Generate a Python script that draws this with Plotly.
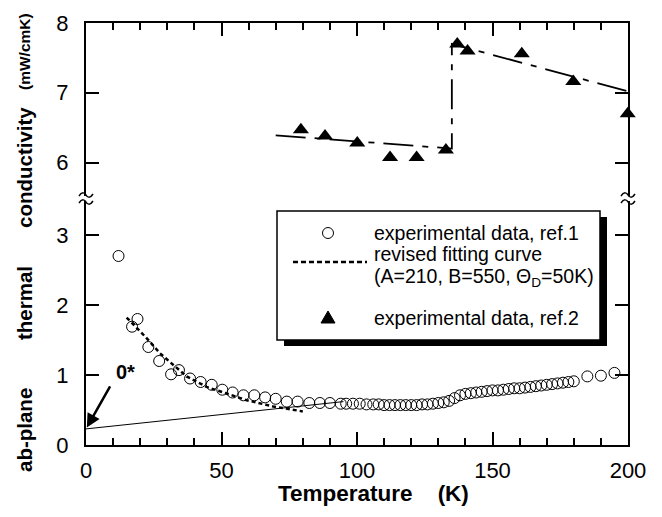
import plotly.graph_objects as go

# ---------------- data ----------------
ref1_T = [12, 17, 19, 23, 27, 31.4, 34.3, 38.4, 42.3, 46.4, 50.3, 54.1, 58.1, 62.1, 66.1, 70, 74.1, 78.1,
          82.4, 86.3, 90, 94, 96, 98.5, 101, 103.5, 106, 108, 110, 112, 114, 116, 118, 120, 122, 124,
          126, 128, 130, 132, 134, 136, 138, 140, 142, 144, 146, 148, 150, 152, 154, 156, 158, 160,
          162, 164, 166, 168, 170, 172, 174, 176, 178, 180, 185, 190, 195]
ref1_k = [2.70, 1.69, 1.80, 1.40, 1.20, 1.01, 1.07, 0.95, 0.90, 0.86, 0.79, 0.75, 0.71, 0.71, 0.68, 0.66, 0.62, 0.62,
          0.60, 0.60, 0.60, 0.59, 0.59, 0.59, 0.59, 0.58, 0.58, 0.58, 0.57, 0.57, 0.57, 0.57, 0.57, 0.57, 0.57, 0.58,
          0.58, 0.59, 0.60, 0.61, 0.63, 0.67, 0.71, 0.73, 0.74, 0.75, 0.76, 0.77, 0.78, 0.78, 0.79, 0.80, 0.81, 0.81,
          0.82, 0.83, 0.84, 0.85, 0.86, 0.87, 0.88, 0.89, 0.90, 0.91, 0.98, 0.99, 1.03]

fit_T = [15, 18, 21.8, 27.3, 31.6, 37.1, 44.5, 50.7, 59.3, 69.1, 77.7, 80]
fit_k = [1.82, 1.70, 1.55, 1.31, 1.17, 0.98, 0.83, 0.75, 0.64, 0.55, 0.49, 0.48]

line0_T = [0, 95]
line0_k = [0.23, 0.62]

ref2_T = [79.3, 88.2, 100.1, 112.2, 122, 132.8, 137, 140.8, 160.8, 179.8, 199.9]
ref2_k = [6.47, 6.38, 6.28, 6.07, 6.07, 6.18, 7.70, 7.60, 7.56, 7.16, 6.70]

guide2_T = [70, 135, 135, 200]
guide2_k = [6.39, 6.20, 7.70, 7.02]

x_ticks = [0, 50, 100, 150, 200]
y_low_ticks = [0, 1, 2, 3]
y_high_ticks = [6, 7, 8]

# ---------------- geometry helpers (page pixel -> paper) ----------------
OFF = 8  # default body margin of the html page
W, H = 662, 517
L, R, T, B = 86, 34, 23, 72          # plot-area edges in page pixels
PW, PH = W - L - R, H - T - B
BOTTOM = H - B                        # page y of the x axis


def X(px):
    return (px - L) / PW


def Y(py):
    return (BOTTOM - py) / PH


FONT = "Liberation Sans, Arial, Helvetica, sans-serif"
NARROW = "Liberation Sans Narrow, Arial Narrow, Liberation Sans, Arial, sans-serif"

fig = go.Figure()

fig.add_trace(go.Scatter(x=line0_T, y=line0_k, mode="lines", line=dict(color="black", width=1),
                         showlegend=False, xaxis="x", yaxis="y"))
fig.add_trace(go.Scatter(x=fit_T, y=fit_k, mode="lines", line=dict(color="black", width=2.5, dash="4px,3px"),
                         showlegend=False, xaxis="x", yaxis="y"))
fig.add_trace(go.Scatter(x=ref1_T, y=ref1_k, mode="markers",
                         marker=dict(symbol="circle-open", size=11, color="black", line=dict(width=1)),
                         showlegend=False, cliponaxis=False, xaxis="x", yaxis="y"))
fig.add_trace(go.Scatter(x=guide2_T, y=guide2_k, mode="lines",
                         line=dict(color="black", width=1.8, dash="30px,9px,6px,9px"),
                         showlegend=False, xaxis="x2", yaxis="y2"))
fig.add_trace(go.Scatter(x=ref2_T, y=ref2_k, mode="markers",
                         marker=dict(symbol="triangle-up", size=14, color="black"),
                         showlegend=False, cliponaxis=False, xaxis="x2", yaxis="y2"))

low_top_px, up_bot_px = 201, 196
low_top_val = (BOTTOM - low_top_px) / 70.0
up_bot_val = 8 - (up_bot_px - T) / 69.75

axis_common = dict(showline=True, linecolor="black", linewidth=2, showgrid=False, zeroline=False,
                   ticks="inside", tickcolor="black", tickwidth=2, automargin=False,
                   tickfont=dict(family=FONT, size=22, color="black"))

fig.update_layout(
    width=W - OFF, height=H - OFF,
    margin=dict(l=L - OFF, r=R, t=T - OFF, b=B, autoexpand=False),
    paper_bgcolor="white", plot_bgcolor="white", showlegend=False,
    xaxis=dict(axis_common, range=[0, 200], domain=[0, 1], anchor="y", tickvals=x_ticks, ticklen=13,
               minor=dict(dtick=10, tick0=0, ticks="inside", ticklen=7, tickwidth=1.5, tickcolor="black"),
               ticklabelstandoff=5),
    xaxis2=dict(axis_common, range=[0, 200], domain=[0, 1], anchor="y2", side="top", matches="x",
                tickvals=x_ticks, ticklen=13, showticklabels=False,
                minor=dict(dtick=10, tick0=0, ticks="inside", ticklen=7, tickwidth=1.5, tickcolor="black")),
    yaxis=dict(axis_common, range=[0, low_top_val], domain=[0, Y(low_top_px)], anchor="x",
               tickvals=y_low_ticks, ticklen=13, mirror="ticks", ticklabelstandoff=11),
    yaxis2=dict(axis_common, range=[up_bot_val, 8], domain=[Y(up_bot_px), 1], anchor="x2",
                tickvals=y_high_ticks, ticklen=13, mirror="ticks", ticklabelstandoff=11),
)

shapes = []
# axis break marks
for cx in (L, L + PW):
    for cy in (195, 202):
        pts = [(cx - 7, cy + 1), (cx - 4, cy - 4), (cx - 1, cy - 2), (cx, cy),
               (cx + 1, cy + 2), (cx + 4, cy + 4), (cx + 7, cy - 1)]
        p = [(X(a), Y(b)) for a, b in pts]
        path = "M{},{} C{},{} {},{} {},{} C{},{} {},{} {},{}".format(
            p[0][0], p[0][1], p[1][0], p[1][1], p[2][0], p[2][1], p[3][0], p[3][1],
            p[4][0], p[4][1], p[5][0], p[5][1], p[6][0], p[6][1])
        shapes.append(dict(type="path", xref="paper", yref="paper", path=path,
                           line=dict(color="black", width=1.5), layer="above"))

# legend box with shadow
shapes.append(dict(type="rect", xref="paper", yref="paper", x0=X(284), x1=X(607), y0=Y(346), y1=Y(217),
                   fillcolor="black", line=dict(width=0), layer="above"))
shapes.append(dict(type="rect", xref="paper", yref="paper", x0=X(277), x1=X(600), y0=Y(340), y1=Y(211),
                   fillcolor="white", line=dict(color="black", width=1.5), layer="above"))
shapes.append(dict(type="circle", xref="paper", yref="paper", x0=X(322.5), x1=X(333.5), y0=Y(238.5),
                   y1=Y(227.5), line=dict(color="black", width=1), layer="above"))
shapes.append(dict(type="line", xref="paper", yref="paper", x0=X(293), x1=X(367), y0=Y(262), y1=Y(262),
                   line=dict(color="black", width=2.5, dash="5px,3px"), layer="above"))
shapes.append(dict(type="path", xref="paper", yref="paper",
                   path="M{},{} L{},{} L{},{} Z".format(X(321), Y(323), X(335), Y(323), X(328), Y(311)),
                   fillcolor="black", line=dict(color="black", width=1), layer="above"))
fig.update_layout(shapes=shapes)

ann = []
leg_font = dict(family=FONT, size=19.5, color="black")
for txt, py in [("experimental data, ref.1", 233), ("revised fitting curve", 254),
                ("(A=210, B=550, \u0398<sub>D</sub>=50K)", 277), ("experimental data, ref.2", 318)]:
    ann.append(dict(xref="paper", yref="paper", x=X(372), y=Y(py), xanchor="left", yanchor="middle",
                    text=txt, showarrow=False, font=leg_font))

# arrow and 0* label
ann.append(dict(xref="x", yref="y", x=0.3, y=0.25, axref="x", ayref="y", ax=9.2, ay=0.86, text="",
                showarrow=True, arrowhead=2, arrowsize=1.1, arrowwidth=2.5, arrowcolor="black"))
ann.append(dict(xref="x", yref="y", x=14.4, y=1.05, text="<b>0*</b>", showarrow=False,
                font=dict(family=FONT, size=20, color="black")))

# axis titles
ann.append(dict(xref="paper", yref="paper", x=X(276), y=Y(493), xanchor="left", yanchor="middle",
                text="<b>Temperature\u00a0\u00a0\u00a0\u00a0(K)</b>", showarrow=False,
                font=dict(family=FONT, size=22.5, color="black")))
for word, py, fs, fam in [("(mW/cmK)", 52, 15.5, NARROW), ("conductivity", 168, 20.5, FONT),
                          ("thermal", 303, 20.5, FONT), ("ab-plane", 430, 20.5, FONT)]:
    ann.append(dict(xref="paper", yref="paper", x=X(24), y=Y(py), xanchor="center", yanchor="middle",
                    text="<b>" + word + "</b>", textangle=-90, showarrow=False,
                    font=dict(family=fam, size=fs, color="black")))
fig.update_layout(annotations=ann)

fig.write_html("out.html")
